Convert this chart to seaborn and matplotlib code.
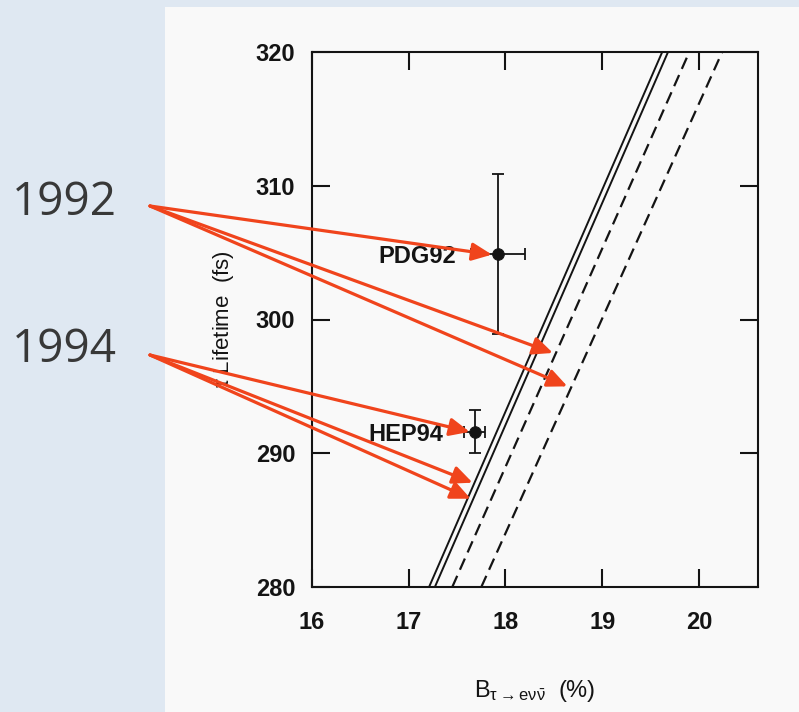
import matplotlib
matplotlib.use("Agg")
import matplotlib.pyplot as plt
from matplotlib.patches import Rectangle
import seaborn as sns
import pandas as pd

# Tau lifetime vs electronic branching ratio measurements
labels = ["PDG92", "HEP94"]
b_e = [17.92, 17.68]
b_e_err = [0.28, 0.11]
lifetime = [304.9, 291.6]
lifetime_err = [6.0, 1.6]

# Lepton-universality predictions: branching ratio at tau = 280 fs and 320 fs
band_tau = [280, 320]
solid_lo = [17.21, 19.62]
solid_hi = [17.27, 19.68]
dashed_lo = [17.45, 19.90]
dashed_hi = [17.75, 20.24]

years = ["1992", "1994"]
x_ticks = [16, 17, 18, 19, 20]
y_ticks = [280, 290, 300, 310, 320]

sns.set_theme(style="ticks")
plt.rcParams["font.family"] = ["Liberation Sans", "DejaVu Sans"]
plt.rcParams["mathtext.fontset"] = "custom"
plt.rcParams["mathtext.rm"] = "Liberation Sans"
plt.rcParams["mathtext.it"] = "Liberation Sans"
plt.rcParams["mathtext.bf"] = "Liberation Sans:bold"

W, H = 799, 712
fig = plt.figure(figsize=(W / 100, H / 100), dpi=100)
fig.patch.set_facecolor("#dfe8f2")
fig.patches.append(Rectangle((165 / W, 0), (W - 165) / W, (H - 7) / H,
                             transform=fig.transFigure, facecolor="#f9f9f9",
                             edgecolor="none", zorder=-10))

ax = fig.add_axes([312 / W, 125 / H, (758 - 312) / W, (587 - 52) / H])
ax.set_facecolor("#f9f9f9")

ink = "#141414"

curves = pd.DataFrame({
    "B": solid_lo + solid_hi + dashed_lo + dashed_hi,
    "tau": band_tau * 4,
    "curve": ["s1"] * 2 + ["s2"] * 2 + ["d1"] * 2 + ["d2"] * 2,
})
for name, sub in curves.groupby("curve"):
    if name.startswith("s"):
        sns.lineplot(data=sub, x="B", y="tau", ax=ax, color=ink, lw=1.4,
                     sort=False, estimator=None)
    else:
        sns.lineplot(data=sub, x="B", y="tau", ax=ax, color=ink, lw=1.6,
                     sort=False, estimator=None, dashes=False,
                     linestyle=(0, (5.5, 3)))

pts = pd.DataFrame({"label": labels, "B": b_e, "tau": lifetime})
ax.errorbar(b_e, lifetime, xerr=b_e_err, yerr=lifetime_err, fmt="none",
            ecolor=ink, elinewidth=1.3, capsize=4, capthick=1.3, zorder=4)
sns.scatterplot(data=pts, x="B", y="tau", ax=ax, color=ink, s=70,
                edgecolor=ink, zorder=5, legend=False)

for lab, bx, ty in zip(labels, b_e, lifetime):
    ax.text(bx - 0.43 if lab == "PDG92" else bx - 0.32, ty - 0.2, lab,
            ha="right", va="center", fontsize=17, fontweight="bold", color=ink)

ax.set_xlim(16, 20.61)
ax.set_ylim(280, 320)
ax.set_xticks(x_ticks)
ax.set_yticks(y_ticks)
ax.tick_params(direction="in", length=13, width=1.5, top=True, right=True,
               labelsize=17, colors=ink)
ax.tick_params(axis="x", pad=17)
ax.tick_params(axis="y", pad=12)
for lab in ax.get_xticklabels() + ax.get_yticklabels():
    lab.set_fontweight("bold")
for sp in ax.spines.values():
    sp.set_linewidth(1.5)
    sp.set_color(ink)

ax.set_xlabel(r"$\mathrm{B}_{\tau\rightarrow \mathrm{e}\nu\bar{\nu}}$  (%)",
              fontsize=17, color=ink, labelpad=32)
ax.set_ylabel(r"$\tau$ Lifetime  (fs)", fontsize=16, color=ink, labelpad=14)

# Year labels with arrows to the corresponding results
year_y = [0.698, 0.4916]
for yr, yy in zip(years, year_y):
    fig.text(12 / W, yy, yr, fontsize=33, family=["Open Sans", "DejaVu Sans"],
             color="#383838", ha="left", va="baseline")

red = "#f0441c"
targets = {
    "1992": [(17.86, 304.85), (18.49, 297.5), (18.64, 295.0)],
    "1994": [(17.63, 291.6), (17.66, 287.8), (17.64, 286.6)],
}
starts = {"1992": (150 / W, 1 - 206 / H), "1994": (150 / W, 1 - 355 / H)}
for yr in years:
    for tgt in targets[yr]:
        ax.annotate("", xy=tgt, xycoords="data", xytext=starts[yr],
                    textcoords="figure fraction", annotation_clip=False,
                    arrowprops=dict(arrowstyle="-|>,head_length=0.6,head_width=0.27",
                                    color=red, lw=2.3, shrinkA=0, shrinkB=0,
                                    mutation_scale=20),
                    zorder=6)

fig.savefig("out.png", dpi=100, facecolor=fig.get_facecolor())
